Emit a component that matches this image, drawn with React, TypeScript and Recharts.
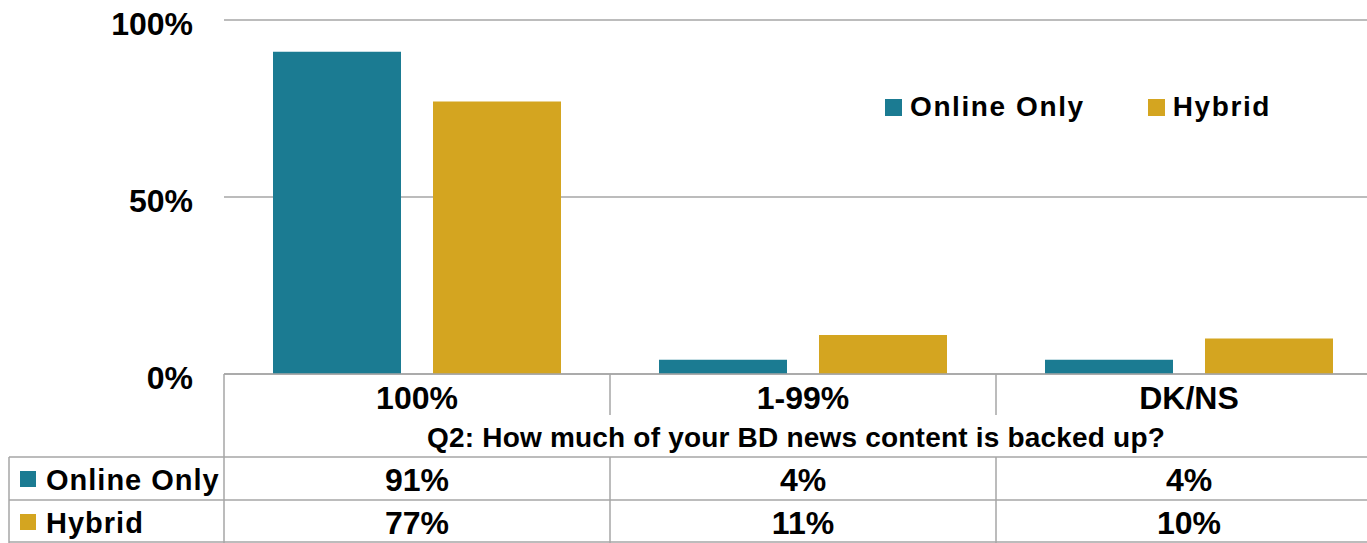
import React from 'react';
import { BarChart, Bar, XAxis, YAxis, CartesianGrid, Legend } from 'recharts';

const categories = ['100%', '1-99%', 'DK/NS'];
const onlineOnly = [91, 4, 4];
const hybrid = [77, 11, 10];
const yTicks = [0, 50, 100];
const seriesNames = ['Online Only', 'Hybrid'];
const seriesColors = ['#1b7b92', '#d4a520'];
const xTitle = 'Q2: How much of your BD news content is backed up?';

const seriesValues = [onlineOnly, hybrid];
const data = categories.map((category, i) => ({ category, online: onlineOnly[i], hybrid: hybrid[i] }));

const FONT = '"Liberation Sans", Arial, sans-serif';
const LINE = '#a6a6a6';

function YTick({ x, y, payload }: any) {
  return (
    <text x={x} y={y + 15} textAnchor="end" fontSize={32} fontWeight="bold" fontFamily={FONT} fill="#000">
      {payload.value}%
    </text>
  );
}

// category label row + data table rows, drawn per category
function XTick(props: any) {
  const { x, y, payload, width, visibleTicksCount } = props;
  const half = payload.offset || width / visibleTicksCount / 2;
  const i = payload.index;
  const left = x - half;
  const right = x + half;
  const tableLeft = left - 215;
  return (
    <g>
      <text x={x} y={y + 35} textAnchor="middle" fontSize={32} fontWeight="bold" fontFamily={FONT} fill="#000">
        {payload.value}
      </text>
      {i > 0 && <line x1={left} x2={left} y1={y} y2={y + 41} stroke={LINE} strokeWidth={1.5} />}
      <line x1={left} x2={left} y1={i === 0 ? y : y + 83} y2={y + 169} stroke={LINE} strokeWidth={1.5} />
      {[83, 126, 168].map((dy) => (
        <line key={dy} x1={i === 0 ? tableLeft : left} x2={right} y1={y + dy} y2={y + dy} stroke={LINE} strokeWidth={1.5} />
      ))}
      {seriesValues.map((vals, s) => (
        <text key={s} x={x} y={y + 117 + s * 43} textAnchor="middle" fontSize={32} fontWeight="bold" fontFamily={FONT} fill="#000">
          {vals[i]}%
        </text>
      ))}
      {i === 0 && (
        <g>
          <line x1={tableLeft} x2={tableLeft} y1={y + 83} y2={y + 169} stroke={LINE} strokeWidth={1.5} />
          {seriesNames.map((name, s) => (
            <g key={name}>
              <rect x={left - 204} y={y + 97 + s * 43} width={16} height={16} fill={seriesColors[s]} />
              <text x={left - 178} y={y + 116 + s * 43} fontSize={29} fontWeight="bold" fontFamily={FONT} fill="#000" letterSpacing={1}>
                {name}
              </text>
            </g>
          ))}
        </g>
      )}
    </g>
  );
}

function TitleLabel({ viewBox }: any) {
  return (
    <text x={viewBox.x + viewBox.width / 2 - 7} y={viewBox.y + 73} textAnchor="middle" fontSize={28} fontWeight="bold" fontFamily={FONT} fill="#000" letterSpacing={0.2}>
      {xTitle}
    </text>
  );
}

function LegendContent() {
  return (
    <div style={{ display: 'flex', alignItems: 'center', height: 34, fontFamily: FONT, fontWeight: 'bold', fontSize: 28, letterSpacing: 1.6 }}>
      {seriesNames.map((name, s) => (
        <div key={name} style={{ display: 'flex', alignItems: 'center', marginRight: 63 }}>
          <span style={{ width: 17, height: 17, background: seriesColors[s], display: 'inline-block', marginRight: 8 }} />
          <span>{name}</span>
        </div>
      ))}
    </div>
  );
}

export default function App() {
  return (
    <div style={{ position: 'absolute', left: 0, top: 0, width: 1367, height: 543, overflow: 'hidden', background: '#fff' }}>
      <BarChart width={1382} height={543} data={data} margin={{ top: 20, right: 0, bottom: 0, left: 0 }} barGap={32}>
        <CartesianGrid horizontal vertical={false} stroke={LINE} strokeWidth={1.5} />
        <YAxis
          domain={[0, 100]}
          ticks={yTicks}
          width={224}
          axisLine={false}
          tickLine={false}
          tickSize={0}
          tickMargin={31}
          tick={<YTick />}
        />
        <XAxis
          dataKey="category"
          height={169}
          interval={0}
          tickLine={false}
          tickSize={0}
          tickMargin={0}
          axisLine={{ stroke: LINE, strokeWidth: 1.5 }}
          tick={<XTick />}
          label={<TitleLabel />}
        />
        <Legend
          layout="horizontal"
          verticalAlign="middle"
          align="center"
          wrapperStyle={{ position: 'absolute', left: 885, top: 90, width: 470 }}
          content={<LegendContent />}
        />
        <Bar dataKey="online" name={seriesNames[0]} fill={seriesColors[0]} barSize={128} isAnimationActive={false} />
        <Bar dataKey="hybrid" name={seriesNames[1]} fill={seriesColors[1]} barSize={128} isAnimationActive={false} />
      </BarChart>
    </div>
  );
}
